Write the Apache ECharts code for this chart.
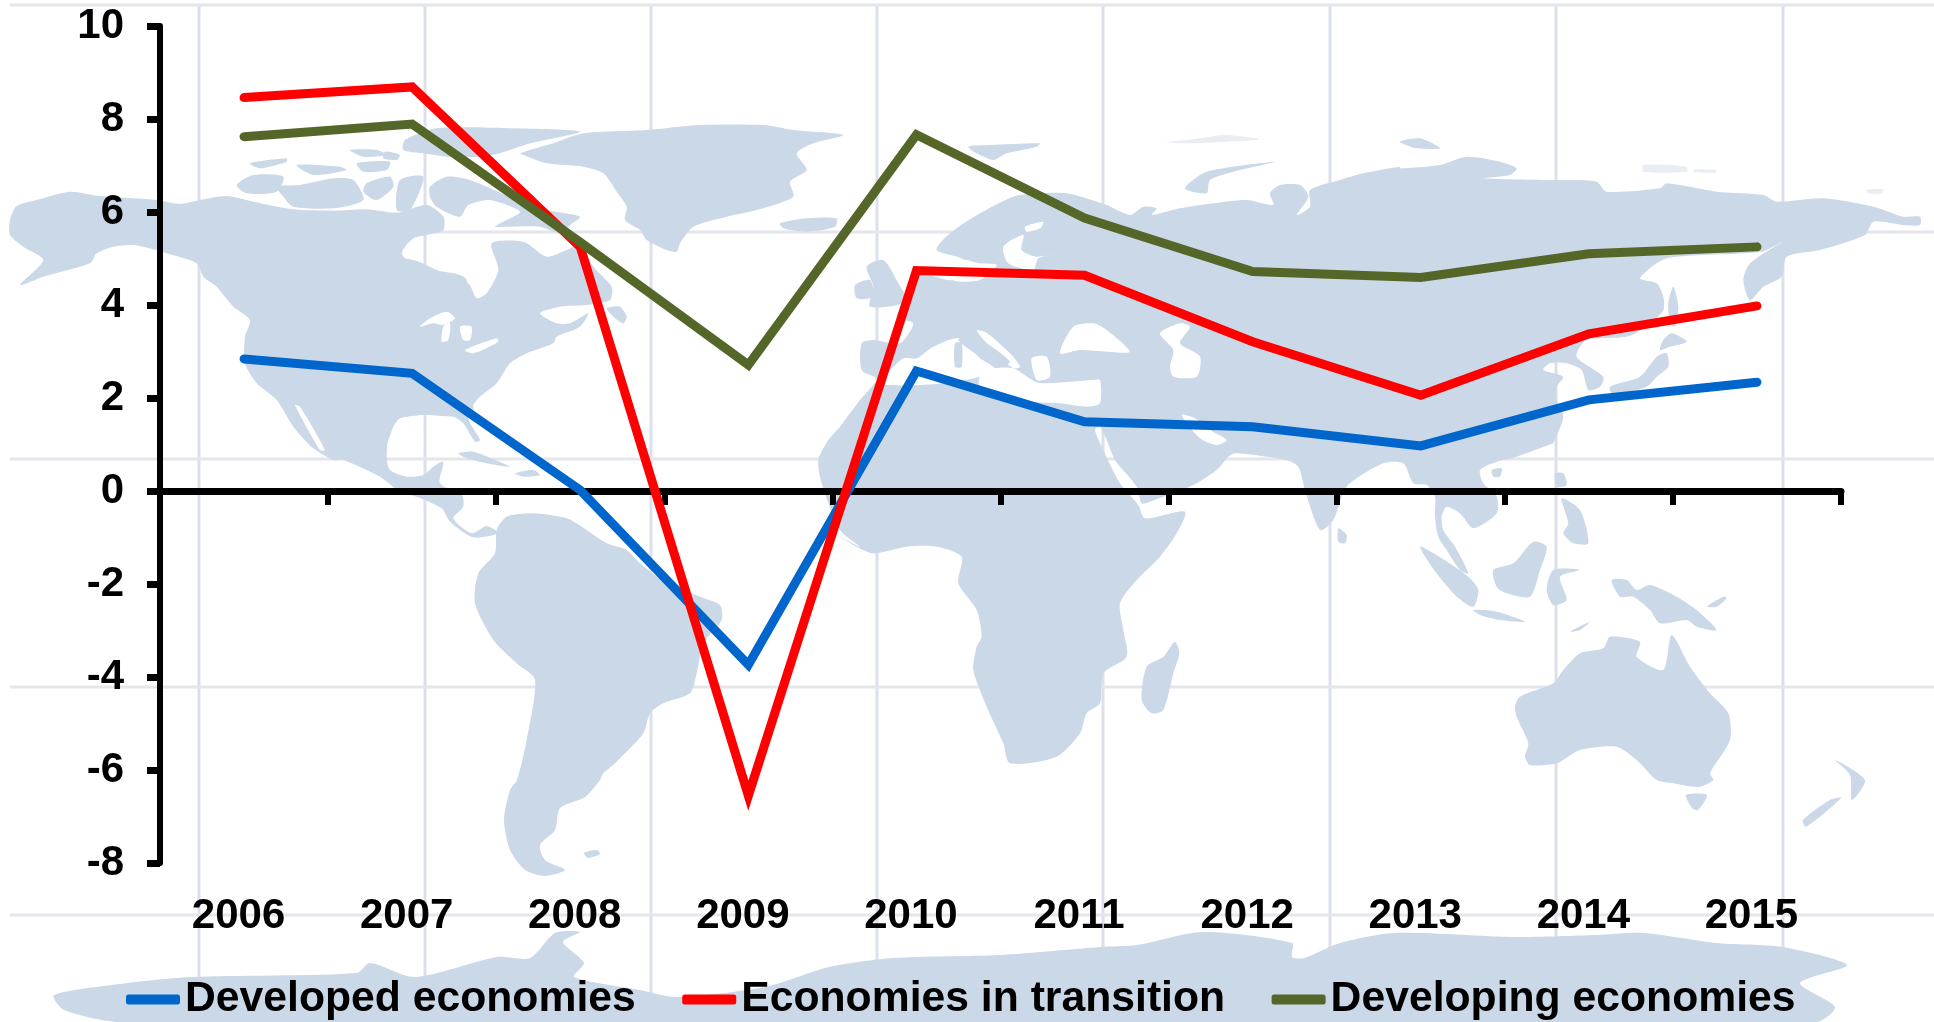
<!DOCTYPE html>
<html>
<head>
<meta charset="utf-8">
<style>html,body{margin:0;padding:0;background:#fff}#chart{width:1934px;height:1022px}</style>
<script src="https://cdn.jsdelivr.net/npm/echarts@6/dist/echarts.min.js"></script>
</head>
<body>
<div id="chart"></div>
<script>
// GDP growth by country group, percent per year
const years = ['2006','2007','2008','2009','2010','2011','2012','2013','2014','2015'];
const developed = [2.84,2.53,0.02,-3.74,2.58,1.49,1.38,0.97,1.96,2.34];
const transition = [8.46,8.69,5.25,-6.55,4.74,4.64,3.21,2.06,3.38,3.98];
const developing = [7.62,7.89,5.35,2.71,7.66,5.87,4.72,4.59,5.10,5.25];
const yTicks = {min:-8,max:10,step:2};

// Backdrop world map. Each outline is a chain of [originX, originY, divisor, points] runs,
// so a coast can be written in whichever local frame is convenient.
const N = [0,120,3], NE = [380,110,3], EU = [880,110,3], AS = [1400,110,3],
      SA = [400,440,3], AF = [830,440,3], OC = [1340,440,3], ABS = [0,0,1];
const land = [
  // North America, western half
  [[...N,[30,300,50,258,110,240,210,215,300,228,400,235,470,240,540,252,600,240,680,228,760,245,880,268,1000,272,1100,268,1190,278,1280,255,1330,290,1330,330,1280,345,1240,355,1205,400,1240,435,1300,450,1400,480,1420,870,1400,890,1270,885,1200,895,1170,930,1160,1010]],
   [...SA,[-30,90,20,110,70,105,100,80,130,65,120,130,185,165,190,200,160,235,215,280,260,258,295,280,220,292,150,245,125,205,50,170,0,155,-60,110,-170,60]],
   [...N,[1000,1020,940,985,880,920,830,840,770,790,735,730,735,650,750,600,700,560,650,500,610,470,590,430,500,400,470,390,400,375,340,380,290,400,270,430,130,470,60,495,130,420,70,380,30,345]]],
  // North America, eastern half
  [[...NE,[335,400,430,395,500,440,560,420,600,405,640,470,695,530,690,570,620,585,540,590,480,610,530,640,570,640,625,610,600,650,530,680,520,700,440,730,390,760,350,820,290,870,265,925,300,990,285,995,250,940,220,920,130,915,60,925,40,950,20,1000,0,1000,0,450,100,450,170,480,265,520,290,565,320,550,355,480]]],
  [[...NE,[680,595,720,590,740,620,730,640,700,620]]],
  // Arctic Canada
  [[...N,[710,195,760,165,850,170,830,215,740,220]]],
  [[...N,[830,200,900,195,1000,175,1060,180,1090,240,1000,265,880,260,850,230]]],
  [[...N,[1100,190,1170,170,1180,200,1130,240,1090,215]]],
  [[...N,[890,135,1020,140,1040,150,940,165]]],
  [[...N,[750,130,860,115,860,125,780,145]]],
  [[...N,[1050,90,1130,90,1160,105,1090,110]]],
  [[...N,[1070,130,1170,125,1160,150,1090,155]]],
  [[...N,[1200,180,1270,170,1230,270,1190,270]]],
  [[...NE,[150,230,200,200,270,210,400,265,500,300,600,320,570,345,540,370,480,350,345,350,370,335,420,305,330,270,265,285,240,320,170,290,150,260]]],
  [[...NE,[75,90,170,55,400,55,600,65,450,100,360,130,300,140,200,140,130,130,70,120]]],
  [[...NE,[15,125,60,135,50,150,10,145]]],
  // Greenland and Iceland
  [[...NE,[420,130,520,100,610,70,800,60,960,45,1150,45,1240,60,1390,75,1300,100,1250,130,1280,180,1230,215,1240,260,1130,300,1040,320,940,350,900,400,890,425,860,420,800,390,780,360,735,330,740,290,710,245,670,190,610,170,500,160,430,135]]],
  [[...NE,[1200,340,1280,325,1370,325,1365,350,1280,365,1210,355]]],
  // South America
  [[...SA,[290,270,320,230,400,220,500,235,560,270,620,310,680,330,720,370,800,430,900,470,960,495,965,540,910,610,890,700,870,760,790,790,750,820,730,880,650,965,610,1000,600,1020]],
   [...ABS,[585,797,560,808,555,830,540,845,545,860,565,870,545,876,525,870,510,850,504,820,510,790,517,780]],
   [...SA,[380,900,405,720,350,670,280,600,225,490,235,400,285,340]]],
  [[...ABS,[584,853,597,850,600,854,588,858]]],
  // Caribbean
  [[...SA,[175,40,220,35,330,80,260,70,200,55]]],
  [[...SA,[345,100,400,90,420,105,370,110]]],
  // Eurasia and Africa, one running coast
  [[...EU,[-55,700,-20,690,60,700,100,640,50,620,100,560,110,490,220,510,250,450,170,420,210,370,300,310,400,260,480,250,560,250,680,285,750,315,790,290,830,295,815,315,900,295,1000,280,1100,270,1180,285,1170,250,1200,225,1260,225,1285,260,1250,315,1290,290,1290,240,1380,210,1450,190,1560,170]],
   [...AS,[0,175,120,165,200,140,300,155,350,175,330,195,250,205,430,210,520,210,590,215,620,245,780,235,800,220,950,245,1090,255,1130,275,1270,265,1420,290,1510,320,1560,320,1560,345,1510,345,1420,335,1395,375,1260,420,1160,440,1145,500,1090,530,1050,570,1030,510,1050,460,1155,390,1085,425,800,445,720,505,770,520,790,560,790,600,740,650,680,680,560,690,530,740,610,800,600,830,565,840,545,780,500,760,450,760,430,780,490,800,470,830,470,870,490,920,460,1000]],
   [...OC,[640,10,530,50,470,65,420,90,430,130,470,170,470,220,400,265,360,220,320,200,305,230,310,270,345,320,385,400,360,390,320,330,295,290,285,230,285,170,260,135,220,130,190,70,130,70,20,140]],
   [...AF,[1510,240,1470,270,1425,150,1405,80,1370,60,1310,50,1215,40,1195,50,1160,90,1090,135,960,185,935,190,920,140,855,60,830,0,810,-40,795,-30,815,20,870,130,925,195,945,235,1065,215,1040,280,990,350,920,420,870,490,880,570,890,650,820,700,810,790,770,820,750,880,680,950,540,970,520,910,470,800,430,690,440,620,455,590,440,510,385,430,395,350,320,320,230,320,130,340,80,320,30,290]],
   [...SA,[1380,320,1320,270,1265,130,1255,60,1285,0]],
   [...NE,[1380,950,1440,870]],
   [...EU,[-20,825,-10,805,-55,780]]],
  [[...AF,[1035,605,1048,640,1030,700,1000,810,965,820,935,780,950,680,1000,650]]],
  [[...AF,[1525,265,1550,285,1545,310,1525,305]]],
  // British Isles
  [[...NE,[1425,525,1470,510,1480,560,1430,565]]],
  [[...EU,[-40,470,10,450,55,520,80,575,-30,590,-20,530]]],
  // Polar Russia and Svalbard
  [[...EU,[915,235,980,185,1185,155,1060,185,990,210,980,250]]],
  [[...EU,[265,110,330,105,480,100,470,110,380,130,340,150,290,130]]],
  [[...AS,[0,95,60,85,120,115,50,115]]],
  // Japan and neighbours
  [[...AS,[630,830,720,800,770,740,800,730,805,770,770,800,740,830,640,855]]],
  [[...AS,[790,690,815,670,860,695,810,710,780,720]]],
  [[...AS,[820,530,835,590,825,650,810,640,805,580]]],
  [[...OC,[645,100,670,100,680,135,650,140]]],
  [[...OC,[455,90,485,85,480,110,460,110]]],
  // Maritime south-east Asia
  [[...OC,[665,175,720,210,745,310,700,310,670,280,685,250]]],
  [[...OC,[240,320,290,345,385,410,415,450,400,500,350,470,290,400]]],
  [[...OC,[400,510,470,515,555,545,480,540,420,525]]],
  [[...OC,[460,390,520,370,580,305,620,320,600,390,570,470,500,460,470,440]]],
  [[...OC,[620,450,640,390,720,390,660,410,680,480,640,495]]],
  [[...OC,[815,420,860,420,890,450,930,435,1010,470,1070,510,1130,570,1070,560,1040,540,960,550,930,510,880,470,840,470]]],
  [[...OC,[1100,500,1150,470,1160,475,1130,500]]],
  [[...OC,[690,575,750,545,720,570]]],
  // Australia, Tasmania and New Zealand
  [[...OC,[525,800,540,770,640,730,670,690,720,640,790,625,810,590,900,605,890,650,970,690,995,585,1050,680,1110,760,1165,820,1170,900,1110,1000,1120,1020,1075,1041,1000,1030,950,1020,890,960,830,920,720,930,650,970,570,975,555,950,565,910,530,830]]],
  [[...ABS,[1686,795,1707,795,1698,810,1692,808]]],
  [[...ABS,[1835,760,1865,780,1852,800,1850,775]]],
  [[...ABS,[1841,798,1806,827,1803,820,1830,800]]],
  // Antarctica
  [[...ABS,[54,995,128,983,191,977,357,973,370,963,415,977,497,957,530,958,555,933,580,932,563,942,584,963,574,977,640,990,676,997,765,987,829,967,893,958,1000,955,1101,947,1137,945,1203,932,1292,943,1292,957,1304,958,1340,943,1394,933,1513,937,1597,935,1644,933,1716,943,1782,947,1847,965,1800,983,1835,1007,1817,1022,120,1022,64,1010]]]
];
// Seas and lakes laid over the land
const water = [
  [[...NE,[120,650,150,625,200,605,225,625,190,645,160,640]]],
  [[...NE,[190,650,210,640,205,690,185,695]]],
  [[...NE,[240,650,275,650,270,690,250,690]]],
  [[...NE,[255,720,350,685,355,695,280,730]]],
  [[...N,[885,855,900,860,975,990,960,990]]],
  [[...EU,[-15,815,30,780,70,745,110,745,160,710,235,685,300,745,345,775,330,795,300,800,230,815,120,825,20,825]]],
  [[...EU,[290,662,320,668,395,735,420,770,400,775,345,725]]],
  [[...EU,[345,775,400,775,465,815,500,820,640,810,660,810,660,880,620,890,540,880,400,870,300,830,300,800]]],
  [[...EU,[455,745,500,740,510,800,470,810]]],
  [[...EU,[540,730,580,650,640,640,680,660,750,725,680,725,600,720]]],
  [[...EU,[840,670,900,640,930,650,900,700,960,740,950,800,880,800,870,770,880,720]]],
  [[...EU,[370,410,430,375,425,420,470,440,540,425,475,445,460,480,385,460]]],
  [[...EU,[435,350,490,335,480,355,440,365]]],
  [[...EU,[240,450,300,460,350,465,300,510,220,510]]],
  [[...EU,[905,915,945,925,990,960,1040,990,1010,1005,960,985]]]
];
const island = [
  [[...EU,[225,700,245,700,245,770,225,770]]],
  [[...EU,[235,690,285,680,390,755,345,770,300,740]]]
];
const faintIslands = [
  [[...EU,[815,90,860,95,960,85,1030,75,1130,85,1135,90,1040,95,900,100]]],
  [[...AS,[730,165,860,170,860,185,730,185]]],
  [[...AS,[880,178,950,180,945,188,880,186]]],
  [[...AS,[1400,240,1450,238,1445,250,1405,250]]]
];
const meridians = [199,425,651,877,1103,1330,1556,1783];
const parallels = [5,232,459,687,915];

function outlinePoints(runs) {
  const pts = [];
  runs.forEach(([ox, oy, k, raw]) => {
    for (let i = 0; i < raw.length; i += 2) pts.push([ox + raw[i] / k, oy + raw[i + 1] / k]);
  });
  return pts;
}
const polygons = (list, fill, z) => list.map(runs => ({
  type: 'polygon', silent: true, z,
  shape: { points: outlinePoints(runs), smooth: 0.25 },
  style: { fill }
}));
const backdrop = [
  ...meridians.map(x => ({type:'line',silent:true,z:-9,shape:{x1:x,y1:5,x2:x,y2:1022},style:{stroke:'#dbe0ea',lineWidth:3}})),
  ...parallels.map(y => ({type:'line',silent:true,z:-9,shape:{x1:10,y1:y,x2:1934,y2:y},style:{stroke:'#e4e6eb',lineWidth:3}})),
  ...polygons(faintIslands, '#e9eef4', -8),
  ...polygons(land, '#cbd8e7', -8),
  ...polygons(water, '#ffffff', -7),
  ...polygons(island, '#cbd8e7', -6)
];

const labelFont = {
  fontFamily: '"Liberation Sans", Arial, sans-serif',
  fontWeight: 'bold', fontSize: 42, color: '#000',
  textShadowColor: 'rgba(0,0,0,0.75)', textShadowOffsetY: 2, textShadowBlur: 0
};
const legendFont = { ...labelFont, fontSize: 42.7 };
const lineSeries = (name, data, color) => ({
  name, data, type: 'line', symbol: 'none', smooth: false, z: 3,
  lineStyle: { color, width: 9, cap: 'round', join: 'miter' },
  itemStyle: { color }
});
const legendNames = ['Developed economies', 'Economies in transition', 'Developing economies'];

const chart = echarts.init(document.getElementById('chart'), null, {renderer: 'canvas'});
chart.setOption({
  animation: false,
  backgroundColor: '#fff',
  graphic: { elements: backdrop },
  grid: { left: 160, right: 93, top: 26, bottom: 159, containLabel: false, outerBoundsMode: 'none' },
  legend: {
    left: 121, top: 973, icon: 'roundRect', itemWidth: 54, itemHeight: 10, itemGap: 46.5,
    textStyle: legendFont,
    data: legendNames.map(name => ({ name, textStyle: legendFont }))
  },
  xAxis: [
    {
      type: 'category', data: years, boundaryGap: true,
      axisLine: { onZero: true, lineStyle: { color: '#000', width: 7 } },
      axisTick: { show: true, alignWithLabel: false, length: 14, lineStyle: { color: '#000', width: 6 } },
      axisLabel: { show: false }
    },
    {
      // Year labels sit along the foot of the plot, apart from the zero line
      type: 'category', data: years, boundaryGap: true, position: 'bottom',
      axisLine: { show: false, onZero: false },
      axisTick: { show: false },
      axisLabel: { ...labelFont, margin: 32, padding: [0, 11, 0, 0] }
    }
  ],
  yAxis: {
    type: 'value', min: yTicks.min, max: yTicks.max, interval: yTicks.step,
    splitLine: { show: false },
    axisLine: { show: true, onZero: false, lineStyle: { color: '#000', width: 6 } },
    axisTick: { show: true, length: 13, lineStyle: { color: '#000', width: 7 } },
    axisLabel: { ...labelFont, textShadowOffsetY: 0, margin: 36 }
  },
  series: [
    lineSeries('Developed economies', developed, '#0066cc'),
    lineSeries('Economies in transition', transition, '#ff0000'),
    lineSeries('Developing economies', developing, '#556629')
  ]
});
</script>
</body>
</html>
